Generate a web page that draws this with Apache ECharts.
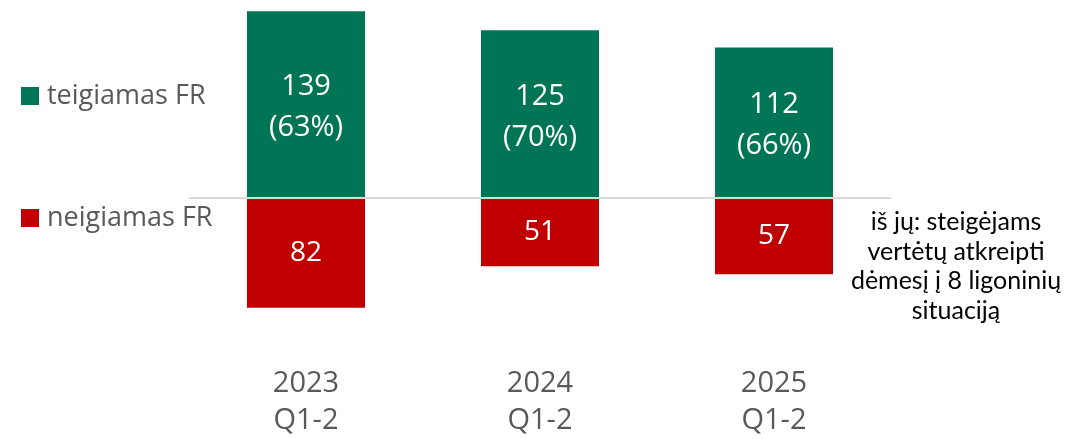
<!DOCTYPE html>
<html>
<head>
<meta charset="utf-8">
<script src="https://cdn.jsdelivr.net/npm/echarts@6/dist/echarts.min.js"></script>
<style>
  html, body { margin: 0; padding: 0; background: #fff; }
  #chart { width: 1071px; height: 439px; }
</style>
</head>
<body>
<div id="chart"></div>
<script>
// kategorijos ir reikšmės
const years = ['2023', '2024', '2025'];
const periods = ['Q1-2', 'Q1-2', 'Q1-2'];
const teigiami = [139, 125, 112];
const teigiamiPct = [63, 70, 66];
const neigiami = [-82, -51, -57];
const pastaba = ['iš jų: steigėjams', 'vertėtų atkreipti', 'dėmesį į 8 ligoninių', 'situaciją'];

const gray = '#595959';
const mainFont = 'Open Sans';

const myChart = echarts.init(document.getElementById('chart'));

let option = {
  animation: false,
  grid: { left: 189, right: 180, top: 10, bottom: 106.5 },
  legend: {
    orient: 'vertical',
    left: 21,
    top: 81,
    padding: 0,
    itemWidth: 18,
    itemHeight: 18,
    itemGap: 92,
    icon: 'rect',
    textStyle: { fontFamily: mainFont, fontSize: 27, color: gray, lineHeight: 30, padding: [0, 0, 0, 3] },
    data: ['teigiamas FR', 'neigiamas FR']
  },
  xAxis: {
    type: 'category',
    data: years.map((y, i) => y + '\n' + periods[i]),
    axisLine: { show: false, onZero: false },
    axisTick: { show: false },
    axisLabel: { margin: 33, fontFamily: mainFont, fontSize: 29, color: gray, lineHeight: 37 }
  },
  yAxis: {
    type: 'value',
    min: -100,
    max: 140,
    show: false,
    splitLine: { show: false }
  },
  // pastaba dešinėje
  graphic: pastaba.map((t, i) => ({
    type: 'text',
    x: 956,
    y: 222 + i * 29.5,
    style: {
      text: t,
      fontFamily: 'Lato',
      fontSize: 25,
      fill: '#000',
      align: 'center',
      verticalAlign: 'middle'
    }
  })),
  series: [
    {
      name: 'teigiamas FR',
      type: 'bar',
      stack: 'fr',
      barWidth: 118,
      itemStyle: { color: '#007556' },
      label: {
        show: true,
        position: 'inside',
        offset: [0, 3],
        color: '#fff',
        fontFamily: mainFont,
        fontSize: 29,
        lineHeight: 41,
        formatter: p => p.value + '\n(' + teigiamiPct[p.dataIndex] + '%)'
      },
      markLine: {
        silent: true,
        symbol: 'none',
        label: { show: false },
        lineStyle: { color: '#d9d9d9', width: 2, type: 'solid' },
        data: [{ yAxis: 0 }]
      },
      data: teigiami
    },
    {
      name: 'neigiamas FR',
      type: 'bar',
      stack: 'fr',
      barWidth: 118,
      itemStyle: { color: '#C00000' },
      label: {
        show: true,
        position: 'inside',
        color: '#fff',
        fontFamily: mainFont,
        fontSize: 28,
        formatter: p => -p.value
      },
      data: neigiami
    }
  ]
};

myChart.setOption(option);
window.addEventListener('resize', myChart.resize);
</script>
</body>
</html>
